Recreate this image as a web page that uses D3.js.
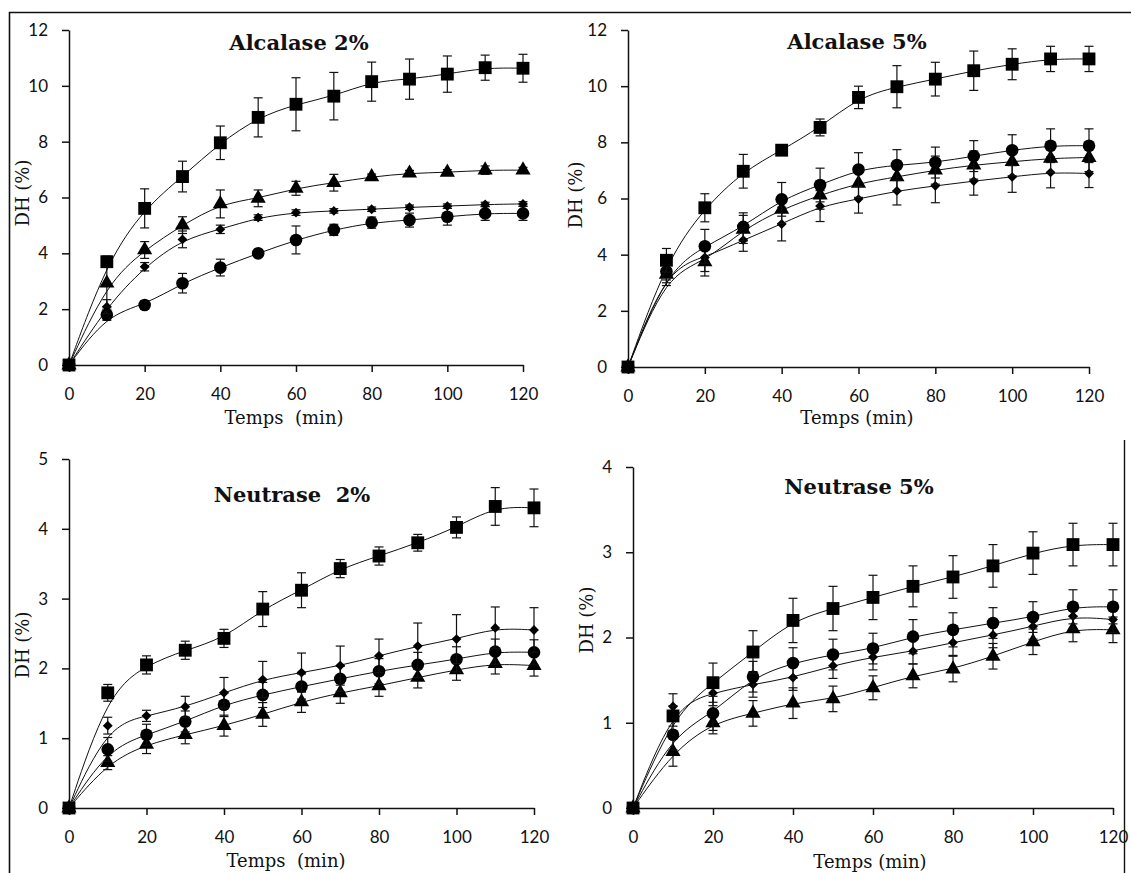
<html>
<head>
<meta charset="utf-8">
<script src="https://cdn.jsdelivr.net/npm/d3@7"></script>
<style>
body { margin: 0; background: #fff; }
svg { display: block; }
.tick text { font-family: Lato, "Open Sans", sans-serif; font-size: 17px; fill: #111; }
.axis path, .axis line { stroke: #111; stroke-width: 1.5px; }
.title { font-family: "DejaVu Serif", serif; font-weight: bold; font-size: 21px; fill: #111; }
.alab { font-family: "DejaVu Serif", serif; font-size: 18px; fill: #111; }
</style>
</head>
<body>
<svg id="chart" width="1131" height="873"></svg>
<script>
// sampling times (min)
var time = [0, 10, 20, 30, 40, 50, 60, 70, 80, 90, 100, 110, 120];

// Alcalase 2%
var a2Square    = [0, 3.7, 5.61, 6.75, 7.96, 8.87, 9.34, 9.63, 10.15, 10.24, 10.42, 10.65, 10.63];
var a2SquareErr = [0, 0.2, 0.7, 0.55, 0.6, 0.7, 0.95, 0.85, 0.7, 0.72, 0.65, 0.45, 0.5];
var a2Tri       = [0, 2.93, 4.12, 5.01, 5.77, 5.97, 6.33, 6.53, 6.74, 6.87, 6.9, 6.98, 6.98];
var a2TriErr    = [0, 0.85, 0.3, 0.3, 0.5, 0.3, 0.25, 0.3, 0.1, 0.1, 0.1, 0.15, 0.1];
var a2Dia       = [0, 2.09, 3.52, 4.5, 4.86, 5.28, 5.46, 5.52, 5.58, 5.65, 5.69, 5.75, 5.77];
var a2DiaErr    = [0, 0.25, 0.15, 0.3, 0.15, 0.1, 0.1, 0.08, 0.08, 0.08, 0.08, 0.08, 0.08];
var a2Cir       = [0, 1.8, 2.15, 2.93, 3.49, 4.0, 4.48, 4.84, 5.1, 5.19, 5.31, 5.43, 5.43];
var a2CirErr    = [0, 0.2, 0.15, 0.35, 0.3, 0.1, 0.5, 0.2, 0.2, 0.25, 0.3, 0.25, 0.25];

// Alcalase 5%
var a5Square    = [0, 3.8, 5.67, 6.97, 7.72, 8.53, 9.6, 9.98, 10.25, 10.55, 10.78, 10.97, 10.97];
var a5SquareErr = [0, 0.42, 0.5, 0.6, 0, 0.3, 0.4, 0.75, 0.6, 0.7, 0.55, 0.45, 0.45];
var a5Cir       = [0, 3.4, 4.3, 4.99, 5.97, 6.48, 7.03, 7.19, 7.28, 7.51, 7.72, 7.88, 7.88];
var a5CirErr    = [0, 0.4, 0.6, 0.5, 0.6, 0.6, 0.6, 0.55, 0.55, 0.55, 0.55, 0.6, 0.6];
var a5Tri       = [0, 3.3, 3.74, 4.9, 5.61, 6.12, 6.54, 6.77, 7.01, 7.19, 7.31, 7.43, 7.46];
var a5TriErr    = [0, 0.4, 0.5, 0.5, 0.5, 0.5, 0.5, 0.5, 0.5, 0.5, 0.5, 0.5, 0.5];
var a5Dia       = [0, 3.5, 3.9, 4.52, 5.09, 5.73, 5.98, 6.27, 6.45, 6.62, 6.77, 6.93, 6.89];
var a5DiaErr    = [0, 0.4, 0.5, 0.4, 0.6, 0.55, 0.5, 0.5, 0.6, 0.5, 0.55, 0.55, 0.5];

// Neutrase 2%
var n2Square    = [0, 1.65, 2.05, 2.26, 2.43, 2.85, 3.12, 3.43, 3.61, 3.8, 4.02, 4.32, 4.3];
var n2SquareErr = [0, 0.12, 0.13, 0.13, 0.13, 0.25, 0.25, 0.13, 0.13, 0.12, 0.15, 0.27, 0.27];
var n2Dia       = [0, 1.18, 1.32, 1.45, 1.65, 1.84, 1.94, 2.04, 2.18, 2.32, 2.42, 2.58, 2.55];
var n2DiaErr    = [0, 0.12, 0.08, 0.15, 0.22, 0.26, 0.28, 0.28, 0.24, 0.33, 0.35, 0.3, 0.32];
var n2Cir       = [0, 0.84, 1.05, 1.24, 1.48, 1.62, 1.74, 1.85, 1.96, 2.05, 2.13, 2.24, 2.23];
var n2CirErr    = [0, 0.17, 0.15, 0.15, 0.17, 0.18, 0.18, 0.18, 0.18, 0.18, 0.18, 0.18, 0.18];
var n2Tri       = [0, 0.65, 0.91, 1.05, 1.18, 1.34, 1.52, 1.65, 1.75, 1.87, 1.98, 2.07, 2.04];
var n2TriErr    = [0, 0.1, 0.13, 0.13, 0.15, 0.17, 0.15, 0.15, 0.15, 0.15, 0.15, 0.15, 0.15];

// Neutrase 5%
var n5Square    = [0, 1.08, 1.47, 1.83, 2.2, 2.34, 2.47, 2.6, 2.71, 2.84, 2.99, 3.09, 3.09];
var n5SquareErr = [0, 0.12, 0.23, 0.25, 0.26, 0.26, 0.26, 0.24, 0.25, 0.25, 0.25, 0.25, 0.25];
var n5Cir       = [0, 0.86, 1.11, 1.54, 1.7, 1.8, 1.87, 2.01, 2.09, 2.17, 2.24, 2.36, 2.36];
var n5CirErr    = [0, 0.18, 0.2, 0.18, 0.18, 0.18, 0.18, 0.2, 0.2, 0.18, 0.18, 0.2, 0.2];
var n5Dia       = [0, 1.19, 1.35, 1.45, 1.53, 1.67, 1.77, 1.84, 1.94, 2.03, 2.13, 2.25, 2.21];
var n5DiaErr    = [0, 0.15, 0.15, 0.15, 0.15, 0.15, 0.15, 0.15, 0.15, 0.15, 0.15, 0.15, 0.15];
var n5Tri       = [0, 0.66, 1.0, 1.11, 1.23, 1.28, 1.41, 1.55, 1.63, 1.78, 1.95, 2.1, 2.09];
var n5TriErr    = [0, 0.17, 0.13, 0.15, 0.18, 0.15, 0.14, 0.14, 0.15, 0.15, 0.15, 0.15, 0.15];

var panels = [
  {title: "Alcalase 2%", yMax: 12, yStep: 2, left: 69, right: 523, top: 30, bottom: 365,
   titleX: 299, titleY: 50, xlab: "Temps\u00a0\u00a0(min)", xlabX: 284, xlabY: 424, ylabX: 29, ylabY: 193,
   series: [[a2Cir, a2CirErr, "circle"], [a2Dia, a2DiaErr, "diamond"], [a2Tri, a2TriErr, "triangle"], [a2Square, a2SquareErr, "square"]]},
  {title: "Alcalase 5%", yMax: 12, yStep: 2, left: 628, right: 1089, top: 30, bottom: 367,
   titleX: 857, titleY: 49, xlab: "Temps (min)", xlabX: 857, xlabY: 424, ylabX: 582, ylabY: 195,
   series: [[a5Dia, a5DiaErr, "diamond"], [a5Tri, a5TriErr, "triangle"], [a5Cir, a5CirErr, "circle"], [a5Square, a5SquareErr, "square"]]},
  {title: "Neutrase\u00a0\u00a02%", yMax: 5, yStep: 1, left: 69, right: 534, top: 459, bottom: 808,
   titleX: 292, titleY: 502, xlab: "Temps\u00a0\u00a0(min)", xlabX: 286, xlabY: 867, ylabX: 29, ylabY: 645,
   series: [[n2Tri, n2TriErr, "triangle"], [n2Cir, n2CirErr, "circle"], [n2Dia, n2DiaErr, "diamond"], [n2Square, n2SquareErr, "square"]]},
  {title: "Neutrase 5%", yMax: 4, yStep: 1, left: 633, right: 1113, top: 467, bottom: 808,
   titleX: 859, titleY: 494, xlab: "Temps (min)", xlabX: 870, xlabY: 868, ylabX: 593, ylabY: 620,
   series: [[n5Tri, n5TriErr, "triangle"], [n5Dia, n5DiaErr, "diamond"], [n5Cir, n5CirErr, "circle"], [n5Square, n5SquareErr, "square"]]}
];

var symbols = {
  square:   d3.symbol().type(d3.symbolSquare).size(165),
  triangle: d3.symbol().type(d3.symbolTriangle).size(100),
  diamond:  d3.symbol().type(d3.symbolDiamond2).size(62),
  circle:   d3.symbol().type(d3.symbolCircle).size(125)
};

var svg = d3.select("#chart");

// outer frame
svg.append("path")
  .attr("d", "M9.5,873 L9.5,12.5 L1131,12.5")
  .attr("fill", "none").attr("stroke", "#111").attr("stroke-width", 1.6);
svg.append("line")
  .attr("x1", 1124.5).attr("x2", 1124.5).attr("y1", 440).attr("y2", 873)
  .attr("stroke", "#111").attr("stroke-width", 1.4);

panels.forEach(function(p) {
  var x = d3.scaleLinear().domain([0, 120]).range([p.left, p.right]);
  var y = d3.scaleLinear().domain([0, p.yMax]).range([p.bottom, p.top]);
  var g = svg.append("g");

  g.append("g").attr("class", "axis")
    .attr("transform", "translate(0," + p.bottom + ")")
    .call(d3.axisBottom(x).tickValues(d3.range(0, 121, 20)).tickSize(7).tickPadding(16).tickSizeOuter(0));

  g.append("g").attr("class", "axis")
    .attr("transform", "translate(" + p.left + ",0)")
    .call(d3.axisLeft(y).tickValues(d3.range(0, p.yMax + 0.001, p.yStep))
      .tickFormat(d3.format("d")).tickSize(7).tickPadding(14).tickSizeOuter(0));

  var line = d3.line()
    .x(function(d, i) { return x(time[i]); })
    .y(function(d) { return y(d); })
    .curve(d3.curveBasis);

  p.series.forEach(function(s) {
    var vals = s[0], errs = s[1], shape = s[2];
    g.append("path").attr("d", line(vals))
      .attr("fill", "none").attr("stroke", "#111").attr("stroke-width", 1);

    var eb = g.append("g").attr("stroke", "#111").attr("stroke-width", 1.2);
    vals.forEach(function(v, i) {
      if (!errs[i]) return;
      var cx = x(time[i]), y1 = y(v + errs[i]), y2 = y(v - errs[i]);
      eb.append("line").attr("x1", cx).attr("x2", cx).attr("y1", y1).attr("y2", y2);
      eb.append("line").attr("x1", cx - 4.5).attr("x2", cx + 4.5).attr("y1", y1).attr("y2", y1);
      eb.append("line").attr("x1", cx - 4.5).attr("x2", cx + 4.5).attr("y1", y2).attr("y2", y2);
    });

    g.selectAll(null).data(vals).enter().append("path")
      .attr("d", symbols[shape])
      .attr("transform", function(d, i) { return "translate(" + x(time[i]) + "," + y(d) + ")"; })
      .attr("fill", "#000");
  });

  g.append("text").attr("class", "title")
    .attr("x", p.titleX).attr("y", p.titleY).attr("text-anchor", "middle").text(p.title);
  g.append("text").attr("class", "alab")
    .attr("x", p.xlabX).attr("y", p.xlabY).attr("text-anchor", "middle").text(p.xlab);
  g.append("text").attr("class", "alab")
    .attr("transform", "translate(" + p.ylabX + "," + p.ylabY + ") rotate(-90)")
    .attr("text-anchor", "middle").text("DH (%)");
});
</script>
</body>
</html>
